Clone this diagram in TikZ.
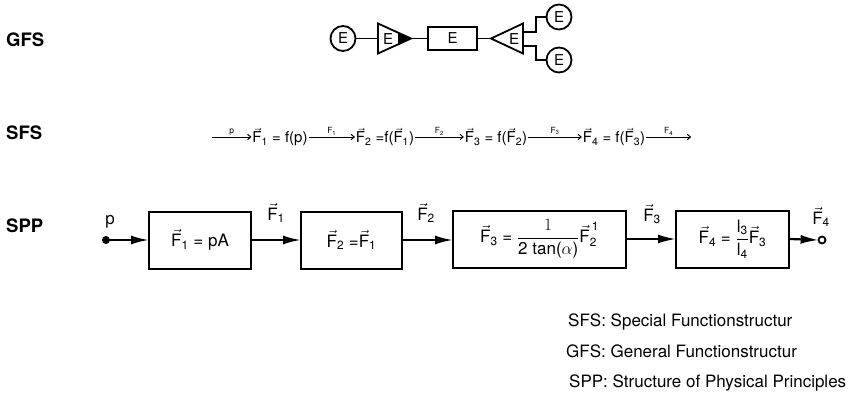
\documentclass[tikz,border=0pt]{standalone}
\usepackage{amsmath}
\usepackage{fontspec}
\setmainfont{TeX Gyre Heros}
\usetikzlibrary{arrows.meta}
\newcommand{\Fv}[1]{\ensuremath{\vec{\textrm{F}}_{\textrm{#1}}}}
\newcommand{\Fs}[1]{\ensuremath{\textrm{F}_{\textrm{#1}}}}
\begin{document}
\begin{tikzpicture}[x=1pt,y=-1pt,
  rowlabel/.style={anchor=west, inner sep=0pt, font=\fontsize{18.5}{20}\selectfont\bfseries},
  gline/.style={line width=1.8pt},
  ecirc/.style={circle, draw, line width=1.8pt, minimum size=25pt, inner sep=0pt, font=\fontsize{15}{16}\selectfont},
  elab/.style={inner sep=0pt, font=\fontsize{15}{16}\selectfont},
  erect/.style={draw, line width=1.8pt, minimum width=49pt, minimum height=23pt, inner sep=0pt, font=\fontsize{15}{16}\selectfont},
  sfsexpr/.style={inner sep=1pt, font=\fontsize{15}{18}\selectfont},
  sfsarrow/.style={-{To[length=4pt,width=6pt]}, line width=1pt},
  sfslab/.style={anchor=south, inner sep=1.5pt, font=\fontsize{8.5}{9}\selectfont},
  sppbox/.style={draw, line width=2pt, minimum height=57pt, inner sep=2pt, font=\fontsize{17}{20}\selectfont},
  spparrow/.style={-{Latex[length=18pt,width=9pt]}, line width=2.2pt, shorten >=-1pt},
  spplab/.style={inner sep=0pt, font=\fontsize{17}{20}\selectfont},
  legend/.style={anchor=west, inner sep=0pt, font=\fontsize{17}{20}\selectfont}]
\useasboundingbox (0,0) rectangle (853,396);

% row labels
\node[rowlabel] (lgfs) at (6,40) {GFS};
\node[rowlabel] (lsfs) at (6,133) {SFS};
\node[rowlabel] (lspp) at (6,226) {SPP};

% ---------------- GFS ----------------
\node[ecirc] (c1) at (343,38.5) {E};
\coordinate (t1l) at (378,38.5);
\coordinate (t1a) at (411,38.5);
\draw[gline, line join=miter] (378,23.5) -- (t1a) -- (378,53.5) -- cycle;
\fill (398,32.6) -- (t1a) -- (398,44.4) -- cycle;
\node[elab] (t1e) at (388,39) {E};
\node[erect] (r1) at (452.5,38.5) {E};
\coordinate (t2a) at (491,38.5);
\draw[gline, line join=miter] (523,23.5) -- (t2a) -- (523,53.5) -- cycle;
\node[elab] (t2e) at (514,39) {E};
\coordinate (t2u) at (523,32);
\coordinate (t2d) at (523,46);
\node[ecirc] (c2) at (559,17) {E};
\node[ecirc] (c3) at (559,60) {E};
\draw[gline] (c1) -- (t1l);
\draw[gline] (t1a) -- (r1.west);
\draw[gline] (r1.east) -- (t2a);
\draw[gline] (t2u) -- ++(13,0) |- (c2);
\draw[gline] (t2d) -- ++(13,0) |- (c3);

% ---------------- SFS ----------------
\coordinate (s0) at (212,137);
\node[sfsexpr] (e1) at (280,137) {\Fv{1} = f(p)};
\node[sfsexpr] (e2) at (385,137) {\Fv{2} =f(\Fv{1})};
\node[sfsexpr] (e3) at (496,137) {\Fv{3} = f(\Fv{2})};
\node[sfsexpr] (e4) at (614,137) {\Fv{4} = f(\Fv{3})};
\coordinate (s5) at (691,137);
\draw[sfsarrow] (s0) -- node[sfslab] {p} (e1.west);
\draw[sfsarrow] (e1.east) -- node[sfslab] {\Fs{1}} (e2.west);
\draw[sfsarrow] (e2.east) -- node[sfslab] {\Fs{2}} (e3.west);
\draw[sfsarrow] (e3.east) -- node[sfslab] {\Fs{3}} (e4.west);
\draw[sfsarrow] (e4.east) -- node[sfslab] {\Fs{4}} (s5);

% ---------------- SPP ----------------
\node[circle, fill, minimum size=8pt, inner sep=0pt] (pdot) at (106,240) {};
\node[spplab] (plab) at (110,222) {p};
\node[sppbox, minimum width=102pt] (b1) at (200,240) {\Fv{1} = pA};
\node[sppbox, minimum width=101pt] (b2) at (351.5,240) {\Fv{2} =\Fv{1}};
\node[sppbox, minimum width=173pt] (b3) at (539.5,239) {\Fv{3} = $\dfrac{1}{\textrm{2 tan(}\alpha\textrm{)}}\vec{\textrm{F}}_{\textrm{2}}^{\,\textrm{1}}$};
\node[sppbox, minimum width=113pt] (b4) at (732.5,239) {\Fv{4} = $\dfrac{\textrm{l}_{\textrm{3}}}{\textrm{l}_{\textrm{4}}}$\Fv{3}};
\node[circle, draw, line width=1.8pt, minimum size=7pt, inner sep=0pt] (out) at (822,240) {};
\node[spplab] (f1lab) at (276,213) {\Fv{1}};
\node[spplab] (f2lab) at (426,213) {\Fv{2}};
\node[spplab] (f3lab) at (652,214) {\Fv{3}};
\node[spplab] (f4lab) at (821,217) {\Fv{4}};
\draw[spparrow] (pdot) -- (b1.west);
\draw[spparrow] (b1.east) -- (b2.west);
\draw[spparrow] (b2.east) -- (b3.west |- b2.east);
\draw[spparrow] (b3.east) -- (b4.west);
\draw[spparrow] (b4.east) -- (out.west);

% ---------------- legend ----------------
\node[legend] (leg1) at (568,322) {SFS: Special Functionstructur};
\node[legend] (leg2) at (566,351) {GFS: General Functionstructur};
\node[legend] (leg3) at (569,383) {SPP: Structure of Physical Principles};
\end{tikzpicture}
\end{document}
